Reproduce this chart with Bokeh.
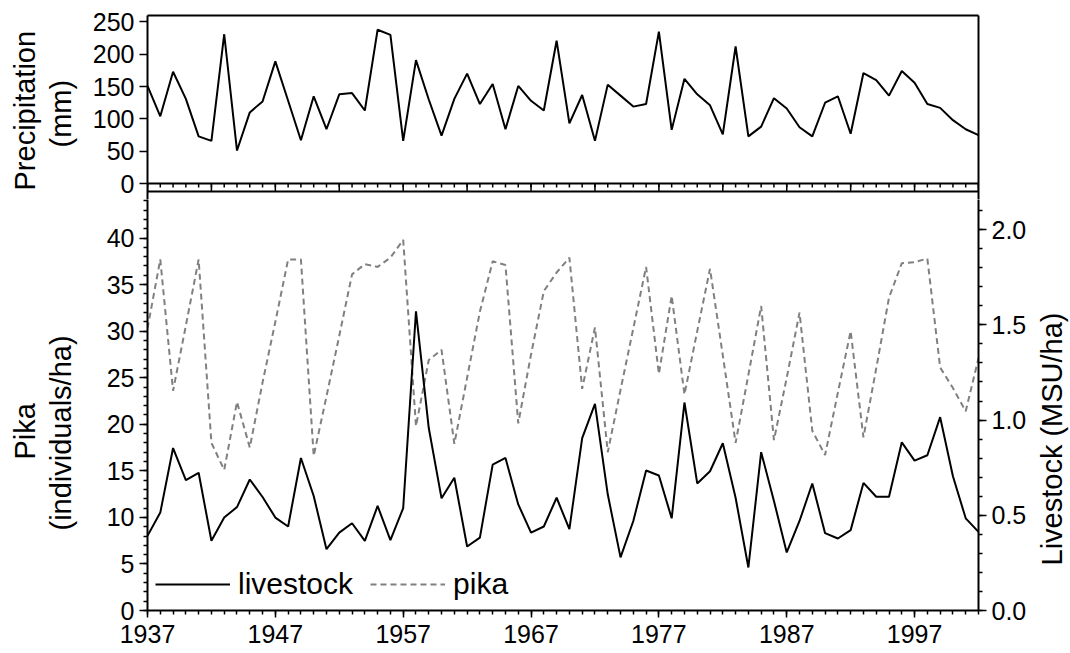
import math
from bokeh.plotting import figure
from bokeh.models import (Range1d, LinearAxis, FixedTicker, Legend,
                          LegendItem, NumeralTickFormatter, Title, Span)
from bokeh.layouts import column, row
from bokeh.embed import file_html
from bokeh.resources import INLINE

# ---------------- data ----------------
years = list(range(1937, 2003))

precip = [151, 104, 173, 131, 73, 66, 231, 51, 110, 127,
          189, 128, 67, 135, 84, 138, 140, 113, 238, 230,
          66, 191, 130, 74, 131, 170, 123, 154, 84, 151,
          128, 113, 221, 93, 137, 66, 153, 136, 119, 123,
          235, 83, 162, 138, 121, 76, 212, 73, 88, 132,
          116, 87, 73, 125, 135, 77, 171, 160, 136, 174,
          156, 123, 117, 98, 84, 75]

pika = [30.3, 37.7, 23.6, 30.6, 37.7, 18.0, 15.1, 22.4, 17.5, 24.5,
        31.0, 37.7, 37.7, 16.6, 23.0, 29.5, 36.1, 37.2, 36.9, 37.9,
        39.8, 19.8, 26.9, 28.0, 17.9, 25.0, 32.1, 37.5, 37.1, 20.1,
        27.5, 34.3, 36.3, 37.9, 23.8, 30.4, 17.0, 23.7, 30.3, 36.9,
        25.4, 33.8, 23.2, 30.0, 36.7, 27.4, 18.0, 25.3, 32.7, 18.3,
        25.0, 32.0, 19.3, 16.7, 23.4, 30.0, 18.6, 26.0, 33.6, 37.3,
        37.4, 37.8, 26.1, 23.9, 21.4, 27.1]

livestock = [0.392, 0.514, 0.853, 0.684, 0.723, 0.366, 0.488, 0.543, 0.688, 0.596,
             0.488, 0.441, 0.801, 0.601, 0.322, 0.409, 0.458, 0.366, 0.549, 0.369,
             0.537, 1.571, 0.958, 0.589, 0.697, 0.336, 0.383, 0.766, 0.801, 0.557,
             0.409, 0.441, 0.592, 0.427, 0.905, 1.085, 0.610, 0.279, 0.470, 0.735,
             0.709, 0.484, 1.092, 0.667, 0.731, 0.878, 0.592, 0.226, 0.831, 0.575,
             0.305, 0.470, 0.667, 0.406, 0.378, 0.422, 0.670, 0.597, 0.597, 0.883,
             0.787, 0.815, 1.015, 0.705, 0.484, 0.413]

x_label_ticks = list(range(1937, 2003, 10))
x_half_ticks = list(range(1937, 2003, 5))
x_minor = list(range(1937, 2003))
precip_ticks = [0, 50, 100, 150, 200, 250]
precip_max = 260
pika_ticks = [0, 5, 10, 15, 20, 25, 30, 35, 40]
pika_minor = list(range(0, 45))
pika_max = 45
live_ticks = [0.0, 0.5, 1.0, 1.5, 2.0]
live_minor = [round(i * 0.1, 1) for i in range(22)]
live_max = 2.2

# ---------------- layout constants (pixels) ----------------
FONT = "Liberation Sans"
TICK_FS = "25px"
LABEL_FS = "29px"
Y_TOP, Y_ZERO1, Y_GAP, Y_TOP2, Y_BOT = 15, 183, 191, 199, 610
X_LEFT, X_RIGHT = 147, 978
WL, WR = 80, 40          # label strips left / right
H1 = Y_TOP2               # top row height
H2 = 453                  # bottom row height
BB2 = H2 - (Y_BOT - Y_TOP2)

u1 = precip_max / (Y_ZERO1 - Y_TOP)          # precip units per pixel
p1_min = -(Y_TOP2 - Y_ZERO1) * u1
gap_y = -(Y_GAP - Y_ZERO1) * u1
minor_y = -4 * u1
frac2 = (Y_BOT - Y_TOP2) / (Y_BOT - Y_GAP)

xr = Range1d(1937, 2002)


def style_axis(ax, tick_out=8, minor_out=4, fs=TICK_FS, standoff=5):
    ax.major_tick_out = tick_out
    ax.major_tick_in = 0
    ax.minor_tick_out = minor_out
    ax.minor_tick_in = 0
    ax.axis_line_width = 2
    ax.axis_line_color = "black"
    ax.major_tick_line_width = 1.5
    ax.minor_tick_line_width = 1.5
    ax.major_tick_line_color = "black"
    ax.minor_tick_line_color = "black"
    ax.major_label_text_font = FONT
    ax.major_label_text_font_size = fs
    ax.major_label_text_color = "black"
    ax.major_label_standoff = standoff


def bare_axis():
    ax = LinearAxis(ticker=FixedTicker(ticks=[]))
    ax.major_tick_out = 0
    ax.major_tick_in = 0
    ax.minor_tick_out = 0
    ax.minor_tick_in = 0
    ax.major_label_standoff = 0
    ax.axis_line_width = 2
    ax.axis_line_color = "black"
    return ax


def side_title(text, offset, standoff=2):
    return Title(text=text, align="left", offset=offset, standoff=standoff,
                 text_font=FONT, text_font_size=LABEL_FS,
                 text_font_style="normal", text_color="black")


def strip(width, height, bl, bt, bb):
    f = figure(width=width, height=height, x_range=Range1d(0, 1),
               y_range=Range1d(0, 1), output_backend="svg",
               toolbar_location=None, x_axis_location=None,
               y_axis_location=None, min_border_left=bl,
               min_border_right=0, min_border_top=bt, min_border_bottom=bb)
    f.grid.visible = False
    f.outline_line_color = None
    return f


# ---------------- top panel ----------------
p1 = figure(width=1070 - WL, height=H1, x_range=xr,
            y_range=Range1d(p1_min, precip_max),
            output_backend="svg", toolbar_location=None,
            x_axis_location=None,
            min_border_left=X_LEFT - WL, min_border_right=1070 - X_RIGHT,
            min_border_top=Y_TOP, min_border_bottom=0)
p1.grid.visible = False
p1.outline_line_color = None

ya1 = p1.yaxis[0]
style_axis(ya1, minor_out=0)
ya1.ticker = FixedTicker(ticks=precip_ticks)
p1.add_layout(bare_axis(), "right")
p1.add_layout(bare_axis(), "above")

p1.add_layout(Span(location=0, dimension="width", line_color="black", line_width=2))
p1.add_layout(Span(location=gap_y, dimension="width", line_color="black", line_width=2))
p1.segment(x0=x_half_ticks, y0=[0] * len(x_half_ticks),
           x1=x_half_ticks, y1=[gap_y] * len(x_half_ticks),
           line_color="black", line_width=1.5)
p1.segment(x0=x_minor, y0=[0] * len(x_minor),
           x1=x_minor, y1=[minor_y] * len(x_minor),
           line_color="black", line_width=1.5)

p1.line(years, precip, line_color="black", line_width=2)

pl1 = strip(WL, H1, WL - 3, Y_TOP, 0)
pl1.add_layout(side_title("(mm)", H1 - 147), "left")
pl1.add_layout(side_title("Precipitation", H1 - 190), "left")

# ---------------- bottom panel ----------------
p2 = figure(width=1070 - WL - WR, height=H2, x_range=xr,
            y_range=Range1d(0, pika_max * frac2),
            output_backend="svg", toolbar_location=None,
            min_border_left=X_LEFT - WL, min_border_right=1070 - WR - X_RIGHT,
            min_border_top=0, min_border_bottom=BB2)
p2.grid.visible = False
p2.outline_line_color = None
p2.extra_y_ranges = {"live": Range1d(0, live_max * frac2)}

xa2 = p2.xaxis[0]
style_axis(xa2, tick_out=7, minor_out=4, standoff=7)
xa2.ticker = FixedTicker(ticks=x_label_ticks, minor_ticks=x_minor)

ya2 = p2.yaxis[0]
style_axis(ya2)
ya2.ticker = FixedTicker(ticks=pika_ticks, minor_ticks=pika_minor)

ra = LinearAxis(y_range_name="live",
                ticker=FixedTicker(ticks=live_ticks, minor_ticks=live_minor),
                formatter=NumeralTickFormatter(format="0.0"))
style_axis(ra)
p2.add_layout(ra, "right")

r_pika = p2.line(years, pika, line_color="#808080", line_width=2, line_dash="6 4")
r_live = p2.line(years, livestock, line_color="black", line_width=2, y_range_name="live")

legend = Legend(items=[LegendItem(label="livestock", renderers=[r_live]),
                       LegendItem(label="pika", renderers=[r_pika])],
                location=(8, 9), orientation="horizontal",
                border_line_color=None, background_fill_alpha=0,
                label_text_font=FONT, label_text_font_size="30px",
                label_text_color="black",
                glyph_width=75, glyph_height=20, label_standoff=8,
                spacing=17, padding=8, margin=0)
p2.add_layout(legend)

pl2 = strip(WL, H2, WL - 3, 0, BB2)
pl2.add_layout(side_title("(individuals/ha)", Y_BOT - 530), "left")
pl2.add_layout(side_title("Pika", Y_BOT - 459), "left")

pr2 = strip(WR, H2, WR - 2, 0, BB2)
pr2.add_layout(side_title("Livestock (MSU/ha)", Y_BOT - 565), "left")

layout = column(row(pl1, p1, spacing=0), row(pl2, p2, pr2, spacing=0), spacing=0)
open("out.html", "w").write(file_html(layout, INLINE))
